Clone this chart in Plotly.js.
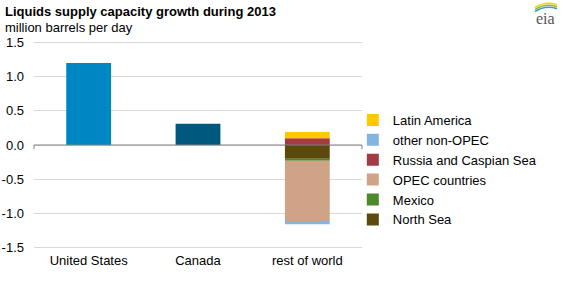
<!DOCTYPE html>
<html>
<head>
<meta charset="utf-8">
<script src="https://cdn.plot.ly/plotly-3.0.1.min.js"></script>
<style>
  html, body { margin: 0; padding: 0; background: #fff; }
  #chart { width: 563px; height: 281px; }
</style>
</head>
<body>
<div id="chart"></div>
<script>
// Categories on the x axis
const categories = ["United States", "Canada", "rest of world"];

// Single-region bars (million barrels per day)
const unitedStates = 1.2;
const canada = 0.31;

// Rest-of-world components, stacked in this order (positive up, negative down)
const regionNames = ["North Sea", "Mexico", "OPEC countries", "Russia and Caspian Sea", "other non-OPEC", "Latin America"];
const regionValues = [-0.20, -0.03, -0.88, 0.10, -0.05, 0.09];
const regionColors = ["#5c4a0c", "#4b8a2c", "#d0a389", "#a33a46", "#84b5e0", "#ffc800"];

const yTicks = [-1.5, -1.0, -0.5, 0.0, 0.5, 1.0, 1.5];
const yTickLabels = ["-1.5", "-1.0", "-0.5", "0.0", "0.5", "1.0", "1.5"];

const traces = [
  { type: "bar", x: [categories[0]], y: [unitedStates], marker: { color: "#0086c3" }, showlegend: false, hoverinfo: "y" },
  { type: "bar", x: [categories[1]], y: [canada], marker: { color: "#00587f" }, showlegend: false, hoverinfo: "y" }
];
regionNames.forEach((name, i) => {
  traces.push({
    type: "bar",
    name: name,
    x: [categories[2]],
    y: [regionValues[i]],
    marker: { color: regionColors[i] }
  });
});

const font = "Arial, 'Liberation Sans', sans-serif";

// small swoosh above the logo text
function swoosh(dy, color) {
  const k = 1 / 213;
  return {
    type: "path", xref: "paper", yref: "paper",
    path: "M 1.5274 " + (1.1291 + dy * k) + " Q 1.5579 " + (1.1620 + dy * k) + " 1.5945 " + (1.1432 + dy * k),
    line: { color: color, width: 1.6 }
  };
}

const layout = {
  width: 563,
  height: 281,
  margin: { l: 34, r: 201, t: 38.5, b: 29.5 },
  paper_bgcolor: "#ffffff",
  plot_bgcolor: "#ffffff",
  barmode: "relative",
  bargap: 0.59,
  font: { family: font, size: 13, color: "#000000" },
  showlegend: true,
  legend: {
    traceorder: "reversed",
    x: 0.972,
    xanchor: "left",
    y: 0.689,
    yanchor: "top",
    font: { family: font, size: 13, color: "#000000" },
    itemwidth: 30,
    tracegroupgap: 0,
    bgcolor: "rgba(0,0,0,0)"
  },
  xaxis: {
    type: "category",
    showgrid: false,
    showline: false,
    zeroline: false,
    ticks: "",
    tickfont: { family: font, size: 13, color: "#000000" },
    fixedrange: true
  },
  yaxis: {
    range: [-1.55, 1.55],
    tickvals: yTicks,
    ticktext: yTickLabels,
    showgrid: true,
    gridcolor: "#d9d9d9",
    gridwidth: 1,
    zeroline: false,
    showline: false,
    ticks: "",
    ticklabelstandoff: 9,
    tickfont: { family: font, size: 13, color: "#000000" },
    fixedrange: true
  },
  shapes: [
    // zero baseline with end ticks
    { type: "line", xref: "paper", yref: "y", x0: 0, x1: 1, y0: 0, y1: 0, line: { color: "#808080", width: 1 } },
    { type: "line", xref: "paper", yref: "y", x0: 0, x1: 0, y0: 0, y1: -0.06, line: { color: "#808080", width: 1 } },
    { type: "line", xref: "paper", yref: "y", x0: 1, x1: 1, y0: 0, y1: -0.06, line: { color: "#808080", width: 1 } },
    swoosh(0, "#3a9ad9"),
    swoosh(2, "#7cc242"),
    swoosh(4, "#ffd200")
  ],
  annotations: [
    { text: "<b>Liquids supply capacity growth during 2013</b>", xref: "paper", yref: "paper",
      x: -0.093, y: 1.131, xanchor: "left", yanchor: "middle", showarrow: false,
      font: { family: font, size: 13, color: "#000000" } },
    { text: "million barrels per day", xref: "paper", yref: "paper",
      x: -0.093, y: 1.056, xanchor: "left", yanchor: "middle", showarrow: false,
      font: { family: font, size: 13, color: "#000000" } },
    { text: "eia", xref: "paper", yref: "paper",
      x: 1.558, y: 1.098, xanchor: "center", yanchor: "middle", showarrow: false,
      font: { family: "'Liberation Serif', 'DejaVu Serif', serif", size: 16, color: "#555555" } }
  ]
};

Plotly.newPlot("chart", traces, layout, { displayModeBar: false, staticPlot: true });
</script>
</body>
</html>
